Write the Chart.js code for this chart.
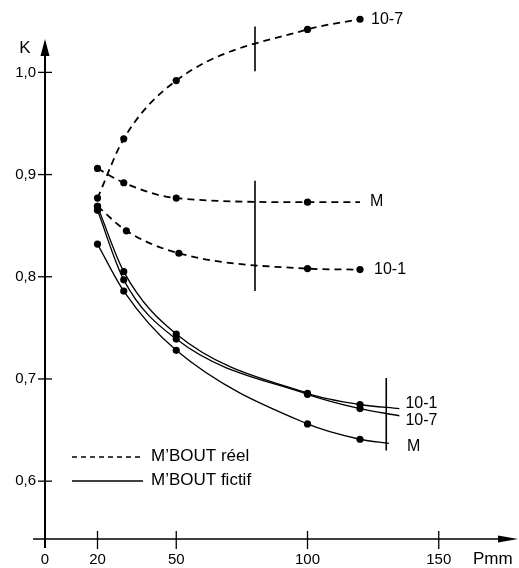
<!DOCTYPE html>
<html>
<head>
<meta charset="utf-8">
<script src="https://cdn.jsdelivr.net/npm/chart.js@4.4.1/dist/chart.umd.min.js"></script>
<style>
  html, body { margin: 0; padding: 0; background: #fff; }
  #wrap { width: 519px; height: 568px; position: relative; }
</style>
</head>
<body>
<div id="wrap"><canvas id="c"></canvas></div>
<script>
// Depth P (mm) against coefficient K, real and fictitious M'BOUT

// M'BOUT réel (dashed)
const reel107_P = [20, 30, 50, 100, 120];
const reel107_K = [0.877, 0.935, 0.992, 1.042, 1.052];

const reelM_P = [20, 30, 50, 100];
const reelM_K = [0.906, 0.892, 0.877, 0.873];
const reelM_end = [120, 0.873];

const reel101_P = [20, 31, 51, 100, 120];
const reel101_K = [0.869, 0.845, 0.823, 0.808, 0.807];

// M'BOUT fictif (solid)
const fict101_P = [20, 30, 50, 100, 120];
const fict101_K = [0.869, 0.805, 0.744, 0.686, 0.675];
const fict101_end = [135, 0.671];

const fict107_P = [20, 30, 50, 100, 120];
const fict107_K = [0.865, 0.797, 0.739, 0.685, 0.671];
const fict107_end = [135, 0.664];

const fictM_P = [20, 30, 50, 100, 120];
const fictM_K = [0.832, 0.786, 0.728, 0.656, 0.641];
const fictM_end = [131, 0.637];

// Vertical marker bars: [P, K bottom, K top]
const bar1 = [80, 1.001, 1.045];
const bar2 = [80, 0.786, 0.894];
const bar3 = [130, 0.630, 0.701];

// Axis ticks and names
const xTicks = [0, 20, 50, 100, 150];
const yTicks = [0.6, 0.7, 0.8, 0.9, 1.0];
const curveNames = ['10-7', 'M', '10-1'];
const legendNames = ['M\u2019BOUT réel', 'M\u2019BOUT fictif'];
const xTitle = 'Pmm';
const yTitle = 'K';

const FONT = '"Liberation Sans", Arial, sans-serif';

function series(P, K, end, dashed, tag, dx, dy) {
  const pts = P.map((p, i) => ({ x: p, y: K[i] }));
  const n = pts.length;
  if (end) pts.push({ x: end[0], y: end[1] });
  return {
    data: pts,
    showLine: true,
    borderColor: '#000',
    backgroundColor: '#000',
    borderWidth: dashed ? 1.8 : 1.3,
    borderDash: dashed ? [7, 5] : [],
    cubicInterpolationMode: 'monotone',
    pointRadius: ctx => (ctx.dataIndex < n ? 3.6 : 0),
    pointHoverRadius: 0,
    pointBackgroundColor: '#000',
    pointBorderWidth: 0,
    tag: tag, tagDx: dx, tagDy: dy
  };
}

function bar(b) {
  return {
    data: [{ x: b[0], y: b[1] }, { x: b[0], y: b[2] }],
    showLine: true,
    borderColor: '#000',
    borderWidth: 1.6,
    pointRadius: 0,
    pointHoverRadius: 0
  };
}

const datasets = [
  series(reel107_P, reel107_K, null, true, curveNames[0], 11, 0),
  series(reelM_P, reelM_K, reelM_end, true, curveNames[1], 10, -1),
  series(reel101_P, reel101_K, null, true, curveNames[2], 14, 0),
  series(fict101_P, fict101_K, fict101_end, false, curveNames[2], 6, -5),
  series(fict107_P, fict107_K, fict107_end, false, curveNames[0], 6, 5),
  series(fictM_P, fictM_K, fictM_end, false, curveNames[1], 18, 3),
  bar(bar1), bar(bar2), bar(bar3)
];

// Axes with arrows, crossing tick marks, end labels and legend
const decor = {
  id: 'decor',
  afterDatasetsDraw(chart) {
    const ctx = chart.ctx;
    const xs = chart.scales.x, ys = chart.scales.y;
    const x0 = xs.getPixelForValue(0);
    const yb = chart.chartArea.bottom;
    ctx.save();
    ctx.strokeStyle = '#000';
    ctx.fillStyle = '#000';
    ctx.setLineDash([]);

    // y axis
    ctx.lineWidth = 2;
    ctx.beginPath();
    ctx.moveTo(x0, yb + 9);
    ctx.lineTo(x0, 52);
    ctx.stroke();
    ctx.beginPath();
    ctx.moveTo(x0, 39);
    ctx.lineTo(x0 - 4.5, 56);
    ctx.lineTo(x0 + 4.5, 56);
    ctx.closePath();
    ctx.fill();

    // x axis
    ctx.lineWidth = 1.6;
    ctx.beginPath();
    ctx.moveTo(33, yb);
    ctx.lineTo(505, yb);
    ctx.stroke();
    ctx.beginPath();
    ctx.moveTo(518, yb);
    ctx.lineTo(498, yb - 3.5);
    ctx.lineTo(498, yb + 3.5);
    ctx.closePath();
    ctx.fill();

    // tick marks
    ctx.lineWidth = 1.3;
    yTicks.forEach(v => {
      const py = ys.getPixelForValue(v);
      ctx.beginPath();
      ctx.moveTo(x0 - 7, py);
      ctx.lineTo(x0 + 7, py);
      ctx.stroke();
    });
    xTicks.forEach(v => {
      if (v === 0) return;
      const px = xs.getPixelForValue(v);
      ctx.beginPath();
      ctx.moveTo(px, yb - 8);
      ctx.lineTo(px, yb + 10);
      ctx.stroke();
    });

    // axis titles
    ctx.font = '17px ' + FONT;
    ctx.textBaseline = 'middle';
    ctx.textAlign = 'center';
    ctx.fillText(yTitle, 25, 48);
    ctx.textAlign = 'left';
    ctx.fillText(xTitle, 473, 559);

    // curve end labels
    ctx.font = '16px ' + FONT;
    chart.data.datasets.forEach((ds, i) => {
      if (!ds.tag) return;
      const meta = chart.getDatasetMeta(i);
      const last = meta.data[meta.data.length - 1];
      ctx.fillText(ds.tag, last.x + ds.tagDx, last.y + ds.tagDy);
    });

    // legend
    ctx.lineWidth = 1.3;
    ctx.setLineDash([5, 4]);
    ctx.beginPath();
    ctx.moveTo(72, 457);
    ctx.lineTo(143, 457);
    ctx.stroke();
    ctx.setLineDash([]);
    ctx.lineWidth = 1.5;
    ctx.beginPath();
    ctx.moveTo(72, 481);
    ctx.lineTo(143, 481);
    ctx.stroke();
    ctx.font = '17px ' + FONT;
    ctx.fillText(legendNames[0], 151, 456);
    ctx.fillText(legendNames[1], 151, 480);
    ctx.restore();
  }
};

new Chart(document.getElementById('c'), {
  type: 'scatter',
  data: { datasets },
  options: {
    responsive: true,
    maintainAspectRatio: false,
    animation: false,
    events: [],
    layout: { padding: { top: 2, right: 1, left: 0, bottom: 0 } },
    plugins: { legend: { display: false }, tooltip: { enabled: false } },
    scales: {
      x: {
        type: 'linear',
        min: 0, max: 179.2,
        grid: { display: false, drawTicks: false },
        border: { display: false },
        afterBuildTicks: s => { s.ticks = xTicks.map(v => ({ value: v })); },
        afterFit: s => { s.height = 29; s.paddingLeft = 0; s.paddingRight = 0; },
        ticks: {
          autoSkip: false, maxRotation: 0, padding: 12,
          color: '#000', font: { family: FONT, size: 15 },
          callback: v => String(v)
        }
      },
      y: {
        type: 'linear',
        min: 0.5434, max: 1.0673,
        grid: { display: false, drawTicks: false },
        border: { display: false },
        afterBuildTicks: s => { s.ticks = yTicks.map(v => ({ value: v })); },
        afterFit: s => { s.width = 45; s.paddingTop = 0; s.paddingBottom = 0; },
        ticks: {
          autoSkip: false, padding: 9,
          color: '#000', font: { family: FONT, size: 15 },
          callback: v => v.toFixed(1).replace('.', ',')
        }
      }
    }
  },
  plugins: [decor]
});
</script>
</body>
</html>
